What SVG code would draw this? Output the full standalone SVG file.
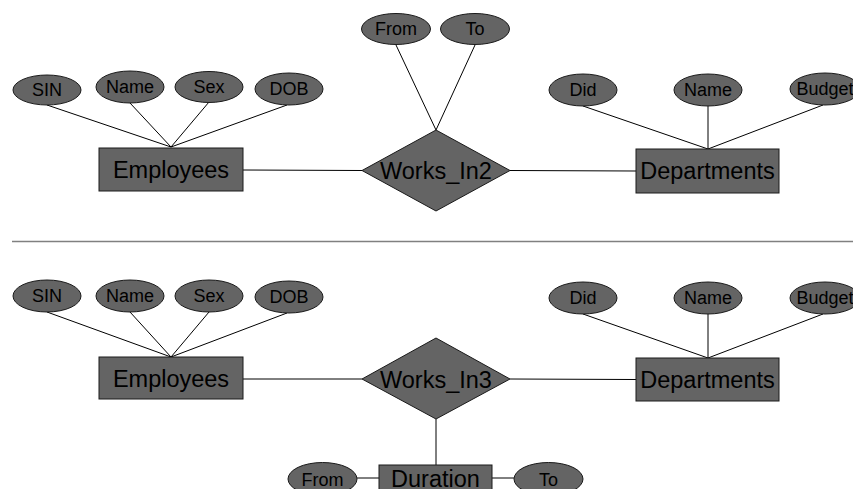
<svg xmlns="http://www.w3.org/2000/svg" width="853" height="489" viewBox="0 0 853 489">
  <style>
    .ent { fill: #646464; stroke: #1a1a1a; stroke-width: 1; }
    .rel { fill: #646464; stroke: #1a1a1a; stroke-width: 1; }
    .att { fill: #646464; stroke: #1a1a1a; stroke-width: 1; }
    .big { font-family: "Liberation Sans", Arial, sans-serif; font-size: 23.5px; fill: #000; text-anchor: middle; }
    .small { font-family: "Liberation Sans", Arial, sans-serif; font-size: 18px; fill: #000; text-anchor: middle; }
    .conn line { stroke: #000; stroke-width: 1; }
    .sep { stroke: #808080; stroke-width: 1.5; }
  </style>

  <!-- connectors -->
  <g id="connectors" class="conn">
    <!-- upper diagram -->
    <line x1="47" y1="105" x2="171" y2="147"/>
    <line x1="130" y1="103" x2="171" y2="147"/>
    <line x1="209" y1="102" x2="171" y2="147"/>
    <line x1="287" y1="105" x2="171" y2="147"/>
    <line x1="243" y1="170" x2="362" y2="170.5"/>
    <line x1="396" y1="45" x2="436" y2="130"/>
    <line x1="475" y1="45" x2="436" y2="130"/>
    <line x1="510" y1="170.5" x2="636" y2="171"/>
    <line x1="583" y1="106" x2="708" y2="149"/>
    <line x1="708" y1="106" x2="708" y2="149"/>
    <line x1="823" y1="105" x2="708" y2="149"/>
    <!-- lower diagram -->
    <line x1="47" y1="312" x2="171" y2="357"/>
    <line x1="130" y1="312" x2="171" y2="357"/>
    <line x1="209" y1="312" x2="171" y2="357"/>
    <line x1="287" y1="313" x2="171" y2="357"/>
    <line x1="243" y1="379" x2="362" y2="379"/>
    <line x1="510" y1="379" x2="636" y2="379.5"/>
    <line x1="583" y1="314" x2="708" y2="358"/>
    <line x1="708" y1="314" x2="708" y2="358"/>
    <line x1="823" y1="314" x2="708" y2="358"/>
    <line x1="436" y1="419" x2="436" y2="465"/>
    <line x1="357" y1="478" x2="379" y2="478"/>
    <line x1="492" y1="478" x2="514" y2="478"/>
  </g>

  <!-- divider between the two diagrams -->
  <line class="sep" x1="12" y1="241.5" x2="853" y2="241.5"/>

  <!-- upper diagram: Works_In2 -->
  <g id="emp1">
    <rect class="ent" x="99" y="148" width="144" height="43"/>
    <text class="big" x="171" y="178">Employees</text>
  </g>
  <g id="emp1-sin">
    <ellipse class="att" cx="47" cy="90" rx="34" ry="15"/>
    <text class="small" x="47" y="96">SIN</text>
  </g>
  <g id="emp1-name">
    <ellipse class="att" cx="130" cy="87" rx="34" ry="16"/>
    <text class="small" x="130" y="93">Name</text>
  </g>
  <g id="emp1-sex">
    <ellipse class="att" cx="209" cy="87" rx="34" ry="15.5"/>
    <text class="small" x="209" y="93">Sex</text>
  </g>
  <g id="emp1-dob">
    <ellipse class="att" cx="289" cy="89" rx="34" ry="16"/>
    <text class="small" x="289" y="95">DOB</text>
  </g>
  <g id="rel1">
    <polygon class="rel" points="436,130 510,170.5 436,211 362,170.5"/>
    <text class="big" x="436" y="179">Works_In2</text>
  </g>
  <g id="rel1-from">
    <ellipse class="att" cx="396" cy="29" rx="34.5" ry="15.5"/>
    <text class="small" x="396" y="35">From</text>
  </g>
  <g id="rel1-to">
    <ellipse class="att" cx="475" cy="29" rx="34.5" ry="15.5"/>
    <text class="small" x="475" y="35">To</text>
  </g>
  <g id="dept1">
    <rect class="ent" x="636" y="149" width="143" height="44"/>
    <text class="big" x="707.5" y="179">Departments</text>
  </g>
  <g id="dept1-did">
    <ellipse class="att" cx="583" cy="90" rx="34" ry="16"/>
    <text class="small" x="583" y="96">Did</text>
  </g>
  <g id="dept1-name">
    <ellipse class="att" cx="708" cy="90" rx="34" ry="16"/>
    <text class="small" x="708" y="96">Name</text>
  </g>
  <g id="dept1-budget">
    <ellipse class="att" cx="825" cy="89" rx="35" ry="16"/>
    <text class="small" x="825" y="95">Budget</text>
  </g>

  <!-- lower diagram: Works_In3 -->
  <g id="emp2">
    <rect class="ent" x="99" y="357" width="144" height="42"/>
    <text class="big" x="171" y="387">Employees</text>
  </g>
  <g id="emp2-sin">
    <ellipse class="att" cx="47" cy="296" rx="34" ry="16"/>
    <text class="small" x="47" y="302">SIN</text>
  </g>
  <g id="emp2-name">
    <ellipse class="att" cx="130" cy="296" rx="34" ry="16"/>
    <text class="small" x="130" y="302">Name</text>
  </g>
  <g id="emp2-sex">
    <ellipse class="att" cx="209" cy="296" rx="34" ry="16"/>
    <text class="small" x="209" y="302">Sex</text>
  </g>
  <g id="emp2-dob">
    <ellipse class="att" cx="289" cy="297" rx="34" ry="16"/>
    <text class="small" x="289" y="303">DOB</text>
  </g>
  <g id="rel2">
    <polygon class="rel" points="436,338 510,379 436,419 362,379"/>
    <text class="big" x="436" y="387.5">Works_In3</text>
  </g>
  <g id="dept2">
    <rect class="ent" x="636" y="358" width="143" height="43"/>
    <text class="big" x="707.5" y="388">Departments</text>
  </g>
  <g id="dept2-did">
    <ellipse class="att" cx="583" cy="298" rx="34" ry="16"/>
    <text class="small" x="583" y="304">Did</text>
  </g>
  <g id="dept2-name">
    <ellipse class="att" cx="708" cy="298" rx="34" ry="16"/>
    <text class="small" x="708" y="304">Name</text>
  </g>
  <g id="dept2-budget">
    <ellipse class="att" cx="825" cy="298" rx="35" ry="16"/>
    <text class="small" x="825" y="304">Budget</text>
  </g>
  <g id="duration">
    <rect class="ent" x="379" y="465" width="113" height="40"/>
    <text class="big" x="435.5" y="487">Duration</text>
  </g>
  <g id="duration-from">
    <ellipse class="att" cx="322.5" cy="479" rx="34.5" ry="16.5"/>
    <text class="small" x="322.5" y="485.5">From</text>
  </g>
  <g id="duration-to">
    <ellipse class="att" cx="548.5" cy="479" rx="34.5" ry="16.5"/>
    <text class="small" x="548.5" y="485.5">To</text>
  </g>
</svg>
